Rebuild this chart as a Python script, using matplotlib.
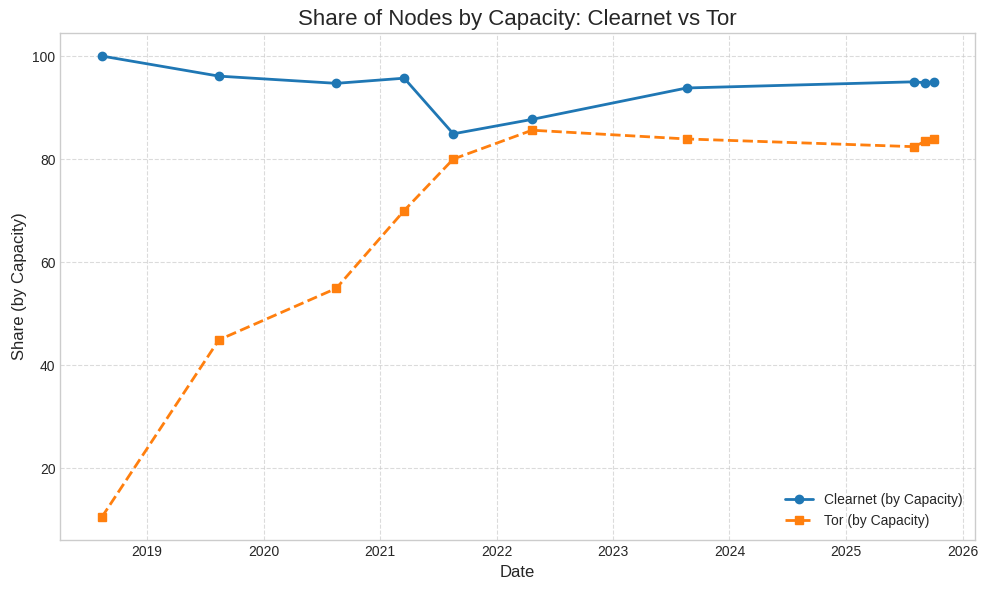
import numpy as np
import pandas as pd
import matplotlib
matplotlib.use('Agg')
import matplotlib.pyplot as plt

dates = pd.to_datetime(['2018-08-12', '2019-08-14', '2020-08-16', '2021-03-17',
                        '2021-08-18', '2022-04-22', '2023-08-20', '2025-08-03',
                        '2025-09-06', '2025-10-02'])
clearnet = [100.0, 96.1, 94.7, 95.7, 84.9, 87.7, 93.8, 95.0, 94.8, 95.0]
tor = [10.5, 44.9, 54.9, 70.0, 80.0, 85.6, 83.9, 82.4, 83.5, 83.9]

plt.style.use('seaborn-v0_8-whitegrid')
plt.rcParams['font.family'] = ['Liberation Sans', 'DejaVu Sans']

fig, ax = plt.subplots(figsize=(9.88, 5.89), dpi=100)
fig.subplots_adjust(left=0.061, right=0.987, top=0.944, bottom=0.083)

ax.plot(dates, clearnet, marker='o', linestyle='-', linewidth=2, markersize=6,
        color='#1f77b4', label='Clearnet (by Capacity)')
ax.plot(dates, tor, marker='s', linestyle='--', linewidth=2, markersize=6,
        color='#ff7f0e', label='Tor (by Capacity)')

ax.set_title('Share of Nodes by Capacity: Clearnet vs Tor', fontsize=16)
ax.set_xlabel('Date', fontsize=12)
ax.set_ylabel('Share (by Capacity)', fontsize=12)
ax.grid(True, linestyle='--', alpha=0.7)
ax.legend(loc='lower right')

plt.savefig('out.png')
